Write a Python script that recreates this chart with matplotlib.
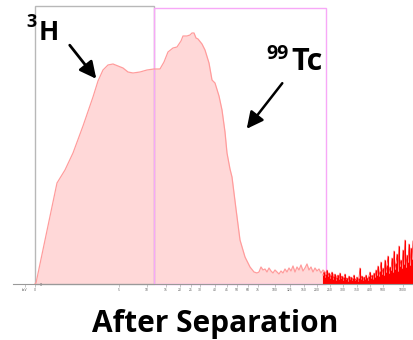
import matplotlib
matplotlib.use('agg')
import matplotlib.pyplot as plt
from matplotlib.patches import Rectangle

# main spectrum (channel, counts)
chan = [0, 1, 22, 30, 38, 48, 58, 63, 68, 73, 78, 83, 88, 93, 98, 105, 112, 119, 125,
        129, 133, 138, 142, 146, 148, 152, 155, 157, 159, 161, 163, 167, 170, 174, 177,
        180, 184, 187, 190, 192, 195, 197, 201, 205, 210, 215, 219, 222]
counts = [0, 1, 101, 114, 131, 158, 187, 203, 214, 219, 220, 218, 216, 212, 211, 212, 214, 215, 215,
          222, 232, 236, 237, 243, 248, 248, 249, 251, 251, 246, 245, 240, 234, 221, 204,
          201, 188, 174, 152, 131, 115, 107, 75, 44, 27, 17, 12, 11]

# low noisy tail (every 2 channels from 224)
tail = [12, 17, 14, 15, 12, 16, 13, 11, 14, 12, 10, 13, 11, 15, 12, 16, 13, 18, 12,
        17, 14, 19, 13, 16, 20, 14, 17, 12, 16, 13, 15, 11, 14, 12, 10, 11, 8, 10, 7,
        8, 6, 7, 5, 6, 4, 6, 4, 5, 4, 5, 3, 5, 4, 5, 4, 6, 5, 4, 6, 5, 7, 6, 5, 7,
        6, 8, 7, 6, 8, 7, 9, 8, 7, 9, 8, 10, 9]

# red high-energy spikes, one per channel from 288
spikes = [9, 12, 7, 10, 14, 8, 11, 6, 9, 12, 5, 8, 10, 4, 7, 9, 5, 11, 6, 8,
          4, 7, 10, 5, 6, 3, 8, 5, 7, 4, 6, 9, 4, 5, 7, 3, 6, 16, 5, 8,
          4, 7, 5, 9, 6, 4, 8, 12, 6, 9, 5, 11, 7, 14, 9, 18, 8, 13, 22, 10,
          16, 9, 24, 12, 19, 28, 11, 17, 14, 26, 12, 33, 15, 21, 30, 13, 38, 18, 24, 16,
          34, 20, 44, 17, 29, 22, 40, 19, 36, 25, 43]

tick_pos = [-10, 0, 84, 112, 131, 145, 156, 165, 180, 192, 202, 213, 223, 240, 255,
            269, 282, 295, 308, 322, 335, 348, 368]
tick_lab = ['keV', '0', '5', '10', '15', '20', '25', '30', '40', '45', '50', '60', '75',
            '100', '125', '150', '200', '250', '300', '350', '400', '500', '1000']

tail_x = list(range(224, 224 + 2 * len(tail), 2))
spike_x = list(range(288, 288 + len(spikes)))
all_x = chan + tail_x
all_y = counts + tail

fig = plt.figure(figsize=(4.14, 3.4), dpi=100)
ax = fig.add_axes([13 / 414, 56 / 340, 401 / 414, 278 / 340])
ax.set_xlim(-22, 379)
ax.set_ylim(0, 278)

ax.fill_between(all_x, all_y, color='#ffd8d8', lw=0)
ax.plot(all_x, all_y, color='#ff9c9c', lw=0.9)
ax.plot(spike_x, spikes, color='#ff3030', lw=0.6)
ax.vlines(spike_x, 0, spikes, color='#ff0000', lw=0.8)

# region boxes
ax.add_patch(Rectangle((0, 0), 119, 278, fill=False, ec='#b8b8b8', lw=1, clip_on=False))
ax.add_patch(Rectangle((119, 0), 172, 276, fill=False, ec='#f7a8f7', lw=1, clip_on=False))

for s in ['top', 'right', 'left']:
    ax.spines[s].set_visible(False)
ax.spines['bottom'].set_color('#999999')
ax.spines['bottom'].set_linewidth(0.8)
ax.set_xticks(tick_pos)
ax.set_xticklabels(tick_lab, fontsize=2.2, color='#555555')
ax.tick_params(axis='x', length=2, width=0.4, color='#999999', pad=1)
ax.set_yticks([0])
ax.set_yticklabels(['0'], fontsize=2.5, color='#555555')
ax.tick_params(axis='y', length=0, pad=-21)

# labels and arrows
ax.text(-9, 262, '3', fontsize=13, fontweight='bold', family='Open Sans',
        ha='left', va='center')
ax.text(4, 252, 'H', fontsize=19, fontweight='bold', family='Open Sans',
        ha='left', va='center')
ax.annotate('', xy=(63, 203), xytext=(33, 241),
            arrowprops=dict(arrowstyle='-|>,head_width=0.5,head_length=1.0', color='black', lw=2))
ax.text(231, 230, '99', fontsize=14, fontweight='bold', family='Open Sans',
        ha='left', va='center')
ax.text(256, 222, 'Tc', fontsize=22, fontweight='bold', family='Open Sans',
        ha='left', va='center')
ax.annotate('', xy=(210, 153), xytext=(249, 203),
            arrowprops=dict(arrowstyle='-|>,head_width=0.5,head_length=1.0', color='black', lw=1.8))

fig.text(215 / 414, 1 - 332 / 340, 'After Separation', fontsize=21.5, fontweight='bold',
         family='Open Sans', ha='center', va='baseline')

fig.savefig('out.png', dpi=100)
